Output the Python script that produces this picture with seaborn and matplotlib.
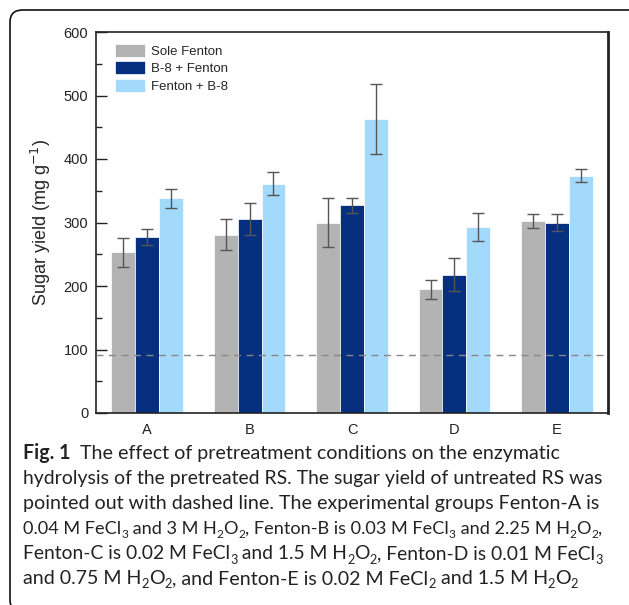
import re
import matplotlib
matplotlib.use("Agg")
import matplotlib.pyplot as plt
import seaborn as sns
import pandas as pd
import numpy as np
from matplotlib.patches import FancyBboxPatch
from matplotlib.ticker import MultipleLocator

categories = ["A", "B", "C", "D", "E"]
series_names = ["Sole Fenton", "B-8 + Fenton", "Fenton + B-8"]
sole_fenton = [253, 281, 300, 195, 303]
sole_fenton_err = [23, 24, 39, 15, 11]
b8_fenton = [277, 305, 327, 218, 300]
b8_fenton_err = [13, 25, 12, 26, 14]
fenton_b8 = [338, 361, 463, 293, 374]
fenton_b8_err = [15, 18, 55, 22, 10]
untreated = 91
colors = ["#b3b3b3", "#062f80", "#a3d9fb"]

caption_lines = [
    "**Fig. 1**  The effect of pretreatment conditions on the enzymatic",
    "hydrolysis of the pretreated RS. The sugar yield of untreated RS was",
    "pointed out with dashed line. The experimental groups Fenton-A is",
    "0.04 M FeCl_3 and 3 M H_2O_2, Fenton-B is 0.03 M FeCl_3 and 2.25 M H_2O_2,",
    "Fenton-C is 0.02 M FeCl_3 and 1.5 M H_2O_2, Fenton-D is 0.01 M FeCl_3",
    "and 0.75 M H_2O_2, and Fenton-E is 0.02 M FeCl_2 and 1.5 M H_2O_2",
]

sns.set_style("white")
plt.rcParams["font.family"] = ["Liberation Sans", "DejaVu Sans"]

df = pd.DataFrame({
    "cat": categories * 3,
    "series": np.repeat(series_names, 5),
    "val": sole_fenton + b8_fenton + fenton_b8,
    "err": sole_fenton_err + b8_fenton_err + fenton_b8_err,
})

fig = plt.figure(figsize=(6.29, 6.05), dpi=100)
ax = fig.add_axes([96 / 629, 1 - 413 / 605, (608 - 96) / 629, (413 - 32) / 605])

sns.barplot(data=df, x="cat", y="val", hue="series", hue_order=series_names,
            palette=colors, errorbar=None, width=0.7, ax=ax,
            edgecolor="white", linewidth=0.5, saturation=1)

# error bars
for i, name in enumerate(series_names):
    cont = ax.containers[i]
    sub = df[df.series == name]
    xs = [p.get_x() + p.get_width() / 2 for p in cont.patches]
    ax.errorbar(xs, sub["val"].values, yerr=sub["err"].values, fmt="none",
                ecolor="#555555", elinewidth=1, capsize=4, capthick=1, zorder=5)

ax.axhline(untreated, color="#888888", ls=(0, (5, 4)), lw=1, zorder=6)

ax.set_ylim(0, 600)
ax.set_xlim(-0.5, 4.5)
ax.yaxis.set_major_locator(MultipleLocator(100))
ax.yaxis.set_minor_locator(MultipleLocator(50))
ax.tick_params(axis="y", which="major", direction="in", length=8, width=1,
               left=True, labelsize=10.5, colors="#222222", pad=5.5)
ax.tick_params(axis="y", which="minor", direction="in", length=4, width=1, left=True)
ax.tick_params(axis="x", bottom=False, labelsize=10.5, pad=4, colors="#222222")
ax.set_xlabel("")
ax.set_ylabel(r"Sugar yield (mg g$^{-1}$)", fontsize=13, labelpad=8)
for s in ax.spines.values():
    s.set_visible(True)
    s.set_color("#222222")
    s.set_linewidth(1.2)
ax.spines["right"].set_linewidth(2)

ax.legend(loc="upper left", bbox_to_anchor=(19 / 512, 1 - 12 / 381), frameon=False,
          fontsize=9.5, handlelength=2.3, handleheight=1.15, labelspacing=0.25,
          handletextpad=0.4, borderpad=0, borderaxespad=0)

# rounded frame around figure
box = FancyBboxPatch((10 / 629, 1 - 612 / 605), 640 / 629, 602 / 605,
                     boxstyle="round,pad=0,rounding_size=0.02",
                     transform=fig.transFigure, fill=False, edgecolor="#111111",
                     lw=1.2, clip_on=False)
fig.patches.append(box)

# caption with manual subscript layout
renderer = fig.canvas.get_renderer()
W, H = fig.bbox.width, fig.bbox.height
CAP_FS = 14.1
SUB_RATIO = 0.66
CAP_FAM = ["Lato", "DejaVu Sans"]
X0 = 23.0
MAX_W = 582.0


def text_width(s, fs, weight):
    def w(t):
        tt = fig.text(0, 0, t, fontsize=fs, family=CAP_FAM, weight=weight)
        e = tt.get_window_extent(renderer).width
        tt.remove()
        return e
    return w("X" + s + "X") - w("XX")


def parse(line):
    segs = []
    m = re.match(r"\*\*(.*?)\*\*(.*)", line)
    if m:
        segs.append((m.group(1), "bold"))
        line = m.group(2)
    parts = re.split(r"_(\w)", line)
    for j, p in enumerate(parts):
        if p == "":
            continue
        segs.append((p, "sub" if j % 2 == 1 else "normal"))
    return segs


def line_width(segs, fs):
    tot = 0.0
    for seg, kind in segs:
        f = fs * SUB_RATIO if kind == "sub" else fs
        tot += text_width(seg, f, "bold" if kind == "bold" else "normal")
    return tot


for k, line in enumerate(caption_lines):
    segs = parse(line)
    fs = CAP_FS
    lw = line_width(segs, fs)
    if lw > MAX_W:
        fs = fs * MAX_W / lw
    x = X0
    ybase = 459 + 25 * k
    for seg, kind in segs:
        f = fs * SUB_RATIO if kind == "sub" else fs
        weight = "bold" if kind == "bold" else "normal"
        yy = ybase + (4.5 if kind == "sub" else 0)
        fig.text(x / W, 1 - yy / H, seg, fontsize=f, family=CAP_FAM, weight=weight,
                 color="#222222", va="baseline", ha="left")
        x += text_width(seg, f, weight)

fig.savefig("out.png", dpi=100)
